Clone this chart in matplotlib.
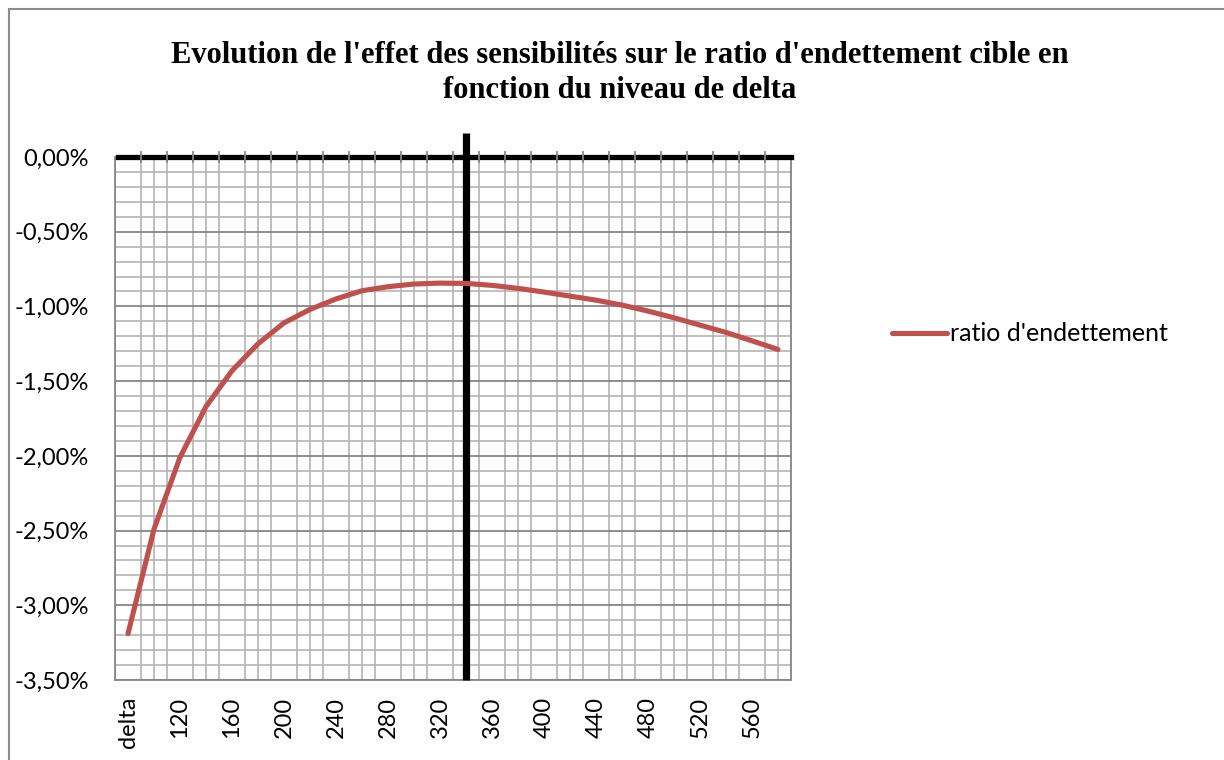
import matplotlib
matplotlib.use("Agg")
import matplotlib.pyplot as plt
from matplotlib.patches import Rectangle
from matplotlib.ticker import FuncFormatter, MultipleLocator

plt.rcParams["font.family"] = ["Lato", "DejaVu Sans"]

# categories: first one is the label "delta", then delta levels 100..580
categories = ["delta"] + [str(v) for v in range(100, 600, 20)]
ratio = [-3.19, -2.49, -2.01, -1.67, -1.43, -1.25, -1.11, -1.02, -0.95,
         -0.895, -0.868, -0.85, -0.844, -0.846, -0.859, -0.879, -0.904,
         -0.931, -0.958, -0.991, -1.031, -1.076, -1.125, -1.174, -1.23,
         -1.288]
marker_cat = "340"   # black vertical marker
title = ("Evolution de l'effet des sensibilités sur le ratio d'endettement cible en\n"
         "fonction du niveau de delta")

RED = "#C0504D"
GRID = "#b4b4b4"
MAJOR = "#868686"

W, H = 1224, 760
fig = plt.figure(figsize=(W / 100, H / 100), dpi=100)
fig.patches.append(Rectangle((9 / W, -0.05), 1.2, 1 - 9 / H + 0.05,
                             transform=fig.transFigure, fill=False,
                             ec="#8c8c8c", lw=1.5))

ax = fig.add_axes([115 / W, 1 - 680 / H, 676 / W, 523 / H])
x = list(range(len(categories)))
n = len(categories)

ax.set_xlim(-0.5, n - 0.5)
ax.set_ylim(-3.5, 0)

# gridlines: minor every 0.1 % and every half category, major every 0.5 %
ax.yaxis.set_major_locator(MultipleLocator(0.5))
ax.yaxis.set_minor_locator(MultipleLocator(0.1))
ax.xaxis.set_minor_locator(MultipleLocator(0.5))
ax.grid(True, which="minor", color=GRID, lw=1.2)
ax.grid(True, which="major", axis="y", color=MAJOR, lw=1.3)
ax.set_axisbelow(True)

ax.set_xticks(x[::2])
ax.set_xticklabels(categories[::2], rotation=90, va="top", ha="center")
ax.tick_params(axis="x", which="major", length=0, pad=12, labelsize=17)
ax.tick_params(axis="x", which="minor", length=0)
ax.tick_params(axis="y", which="both", length=0, pad=19, labelsize=17)
ax.yaxis.set_major_formatter(FuncFormatter(
    lambda v, _: f"{v:.2f}".replace(".", ",").replace("-0,00", "0,00") + "%"))

for s in ["left", "bottom", "right"]:
    ax.spines[s].set_color(MAJOR)
    ax.spines[s].set_linewidth(1.3)
ax.spines["top"].set_visible(False)

# thick black zero line and vertical marker
ax.axhline(0, color="black", lw=3.8, zorder=3, xmin=0.005, xmax=1, clip_on=False)
mi = categories.index(marker_cat)
ax.plot([mi, mi], [-3.5, 0.16], color="black", lw=5.2, zorder=4,
        clip_on=False, solid_capstyle="butt")

# tick marks between categories crossing the zero line
for b in [i + 0.5 for i in x[:-1]]:
    ax.plot([b, b], [-0.035, 0.035], color=MAJOR, lw=1.3, zorder=5, clip_on=False)

ax.plot(x, ratio, color=RED, lw=3.7, solid_capstyle="round",
        label="ratio d'endettement", zorder=6)

leg = ax.legend(loc="center left", bbox_to_anchor=(892 / W, 1 - 334 / H),
                bbox_transform=fig.transFigure, frameon=False,
                fontsize=18, handlelength=2.2, handletextpad=0.12,
                borderpad=0, borderaxespad=0)

fig.text(620 / W, 1 - 73 / H, title, ha="center", va="center",
         family=["Liberation Serif", "DejaVu Serif"], fontweight="bold",
         fontsize=22, linespacing=1.3)

fig.savefig("out.png", dpi=100)
